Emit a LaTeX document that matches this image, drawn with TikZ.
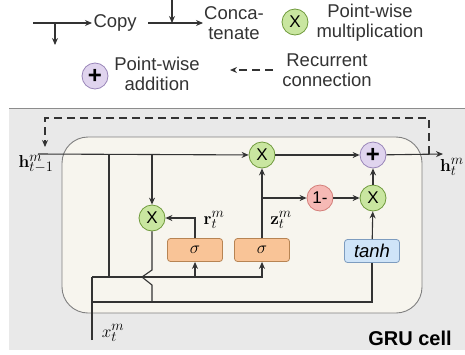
\documentclass[tikz,border=0pt]{standalone}
\usepackage[no-math]{fontspec}
\newfontfamily\arial{Liberation Sans}
\usetikzlibrary{arrows.meta}
\definecolor{linegray}{HTML}{333333}
\definecolor{panelgray}{HTML}{E9E9E9}
\definecolor{panelline}{HTML}{8C8C8C}
\definecolor{cellfill}{HTML}{F7F5EE}
\definecolor{cellline}{HTML}{808080}
\definecolor{mulfill}{HTML}{C9E6A0}
\definecolor{mulline}{HTML}{6F9A3C}
\definecolor{addfill}{HTML}{E0D4EE}
\definecolor{addline}{HTML}{9985B8}
\definecolor{omfill}{HTML}{F6B9B5}
\definecolor{omline}{HTML}{D47F7A}
\definecolor{gatefill}{HTML}{F9C497}
\definecolor{gateline}{HTML}{B78453}
\definecolor{candfill}{HTML}{CFE4F8}
\definecolor{candline}{HTML}{7D9CBF}
\begin{document}
\begin{tikzpicture}[x=1pt, y=-1pt, >={Stealth[length=7pt,width=6pt]},
    line width=1.1pt, draw=linegray,
    lbl/.style={font=\arial\fontsize{18.5}{20}\selectfont, align=center, inner sep=0pt, text=linegray},
    lab/.style={font=\fontsize{19}{20}\selectfont, inner sep=0pt},
    opc/.style={circle, line width=0.8pt, minimum size=26pt, inner sep=0pt, font=\arial\fontsize{17}{17}\selectfont},
    mulc/.style={opc, draw=mulline, fill=mulfill},
    addc/.style={opc, draw=addline, fill=addfill, font=\arial\bfseries\fontsize{24}{24}\selectfont},
    omc/.style={opc, draw=omline, fill=omfill},
    gatebox/.style={rectangle, rounded corners=3pt, line width=0.8pt, minimum width=55pt, minimum height=23pt, inner sep=0pt, font=\fontsize{19}{20}\selectfont},
    gate/.style={gatebox, draw=gateline, fill=gatefill},
    candbox/.style={gatebox, draw=candline, fill=candfill, font=\arial\itshape\fontsize{18.5}{20}\selectfont},
    recur/.style={dashed, dash pattern=on 8pt off 5pt, line width=1.6pt}]
\useasboundingbox (0,0) rectangle (465,354);
% legend
\coordinate (cpa) at (33,23); \coordinate (cpb) at (92,23);
\coordinate (cpm) at (55,23); \coordinate (cpd) at (55,45);
\draw[->] (cpa) -- (cpb);
\draw[->] (cpm) -- (cpd);
\node[lbl, anchor=west] (copy) at (93,23) {Copy};
\coordinate (cca) at (148,23); \coordinate (ccb) at (203,23);
\coordinate (cct) at (172,0); \coordinate (ccm) at (172,23);
\draw[->] (cca) -- (ccb);
\draw[->] (cct) -- (ccm);
\node[lbl] (concat) at (234,23) {Conca-\\tenate};
\node[mulc] (legmul) at (295,22) {X};
\node[lbl] (legmult) at (370,23) {Point-wise\\multiplication};
\node[addc] (legadd) at (95,76) {+};
\node[lbl] (legaddt) at (157,74) {Point-wise\\addition};
\coordinate (rca) at (273,70); \coordinate (rcb) at (230,70);
\draw[->, recur, line width=1.2pt] (rca) -- (rcb);
\node[lbl] (rect) at (327,70) {Recurrent\\connection};
% panel and cell
\fill[panelgray] (9,108) rectangle (465,350);
\draw[panelline, line width=1pt] (9,108) -- (465,108);
\draw[cellline, fill=cellfill, rounded corners=26pt, line width=0.9pt] (62,137) rectangle (422,313);
% operators and gates
\node[mulc] (mulz) at (262,155) {X};
\node[addc] (add) at (373,155) {+};
\node[mulc] (mulr) at (152,218) {X};
\node[omc] (omz) at (320,198) {1-};
\node[mulc] (mulh) at (373,198) {X};
\node[gate] (sigr) at (195,250) {$\sigma$};
\node[gate] (sigz) at (262,250) {$\sigma$};
\node[candbox] (cand) at (372,251) {tanh};
% points
\coordinate (hin) at (38,154); \coordinate (hout) at (443,154);
\coordinate (xin) at (92,340);
\coordinate (row1) at (92,277); \coordinate (row2) at (92,302);
\coordinate (jh) at (109,154); \coordinate (jhb) at (109,277);
\coordinate (jr) at (152,154);
\coordinate (hopa) at (152,270); \coordinate (hopb) at (142,277);
\coordinate (hopc) at (152,285); \coordinate (hopd) at (152,302);
\coordinate (zb) at (262,198);
\coordinate (rra) at (429,154); \coordinate (rrb) at (429,118);
\coordinate (rrc) at (45,118); \coordinate (rrd) at (45,147);
% connectors
\draw[->] (hin) -- (mulz);
\draw (jh) -- (jhb);
\draw[->] (jr) -- (mulr);
\draw (mulr) -- (hopa) -- (hopb) -- (hopc) -- (hopd);
\draw (xin) -- (row1);
\draw[->] (row1) -| (sigz);
\draw[->] (sigr.south |- row1) -- (sigr);
\draw (row2) -| (cand);
\draw[->] (sigr) |- (mulr);
\draw[->] (sigz) -- (mulz);
\draw[->] (zb) -- (omz);
\draw[->] (omz) -- (mulh);
\draw[->] (cand) -- (mulh);
\draw[->] (mulh) -- (add);
\draw[->] (mulz) -- (add);
\draw[->] (add) -- (hout);
\draw[->, recur] (rra) -- (rrb) -- (rrc) -- (rrd);
% labels
\node[lab] (hprev) at (36,164) {$\mathbf{h}^m_{t-1}$};
\node[lab] (hnext) at (452,167) {$\mathbf{h}^m_t$};
\node[lab] (xlab) at (113,333) {$x^m_t$};
\node[lab] (rlab) at (214,220) {$\mathbf{r}^m_t$};
\node[lab] (zlab) at (281,220) {$\mathbf{z}^m_t$};
\node[lbl, font=\arial\bfseries\fontsize{20}{20}\selectfont, text=black] (cell) at (410,338) {GRU cell};
\end{tikzpicture}
\end{document}
